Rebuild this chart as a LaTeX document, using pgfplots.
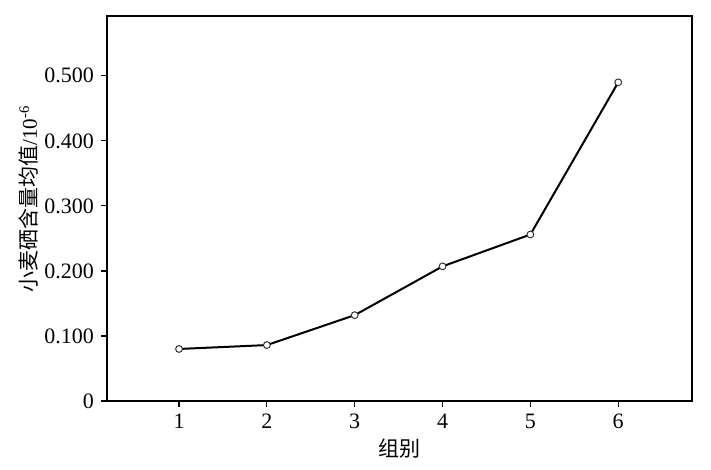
\documentclass[border=0pt]{standalone}
\usepackage{pgfplots}
\pgfplotsset{compat=1.18}
\usepackage{fontspec}
\setmainfont{Liberation Serif}
\newfontfamily\cjk{Noto Sans CJK SC}
\begin{document}
\begin{tikzpicture}
\begin{axis}[
  scale only axis,
  width=292.5pt, height=192.5pt,
  xmin=0.18, xmax=6.84,
  ymin=0, ymax=0.592,
  xtick={1,2,3,4,5,6},
  ytick={0,0.1,0.2,0.3,0.4,0.5},
  yticklabels={0,0.100,0.200,0.300,0.400,0.500},
  tick align=outside,
  xtick pos=bottom, ytick pos=left,
  major tick length=3pt,
  axis line style={line width=0.8pt},
  tick style={line width=0.6pt, black},
  ticklabel style={font=\fontsize{11}{12}\selectfont},
  /pgf/number format/assume math mode=true,
  xlabel={\cjk 组别},
  ylabel={\cjk 小麦硒含量均值\rmfamily/10\textsuperscript{-6}},
  label style={font=\fontsize{10.5}{12}\selectfont},
  xlabel style={yshift=2pt},
  ylabel style={yshift=-4pt, at={(ticklabel cs:0.525)}},
]
\addplot[black, line width=1pt, mark=*, mark size=1.7pt,
  mark options={fill=white, draw=black!80, line width=0.5pt}]
  coordinates {(1,0.080) (2,0.086) (3,0.132) (4,0.207) (5,0.256) (6,0.490)};
\end{axis}
\pgfresetboundingbox
\path[use as bounding box] ([xshift=-53.5pt,yshift=-34.5pt]current axis.south west) rectangle ([xshift=9.5pt,yshift=8pt]current axis.north east);
\end{tikzpicture}
\end{document}
